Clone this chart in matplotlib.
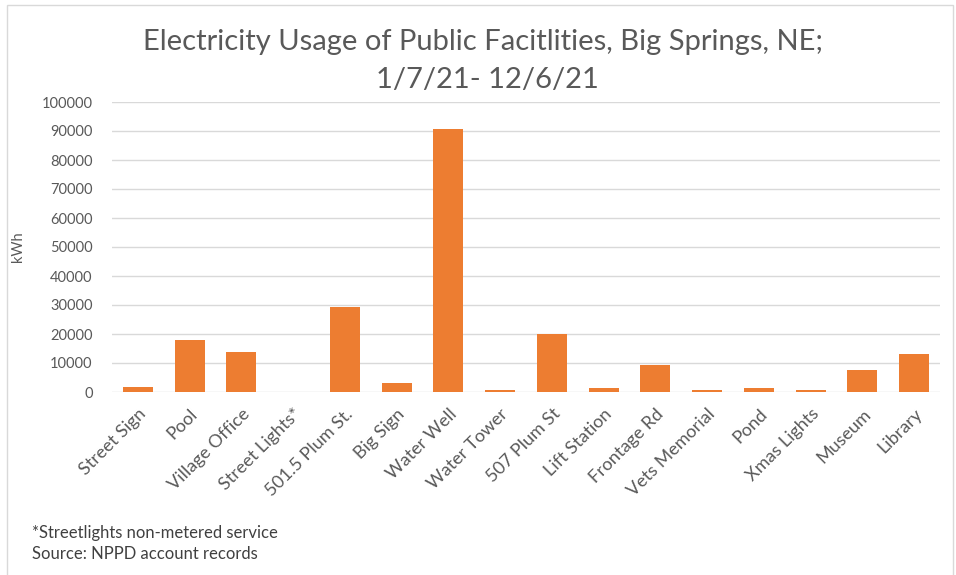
import numpy as np
import matplotlib
matplotlib.use("Agg")
import matplotlib.pyplot as plt
from matplotlib.patches import Rectangle

# Datos (kWh)
sites = ["Street Sign", "Pool", "Village Office", "Street Lights*", "501.5 Plum St.",
         "Big Sign", "Water Well", "Water Tower", "507 Plum St", "Lift Station",
         "Frontage Rd", "Vets Memorial", "Pond", "Xmas Lights", "Museum", "Library"]
kwh = [1800, 18000, 13700, 0, 29200, 3200, 90800, 700, 20000, 1300,
       9400, 700, 1300, 700, 7600, 13100]
yticks = list(range(0, 100001, 10000))

plt.rcParams['font.family'] = ['Lato', 'DejaVu Sans']
gray = '#595959'
orange = '#ED7D31'

fig = plt.figure(figsize=(9.56, 5.75), dpi=100)
ax = fig.add_axes([112/956, 1 - 392/575, (940-112)/956, (392-102)/575])

x = np.arange(len(sites))
ax.bar(x, kwh, width=0.58, color=orange, zorder=3)

ax.set_xlim(-0.5, len(sites) - 0.5)
ax.set_ylim(0, 100000)
ax.set_yticks(yticks)
ax.set_yticklabels([str(v) for v in yticks], fontsize=10.5, color=gray)
ax.set_xticks(x)
ax.set_xticklabels(sites, rotation=45, ha='right', rotation_mode='anchor',
                   fontsize=13, color=gray)
ax.tick_params(axis='y', length=0, pad=14)
ax.tick_params(axis='x', length=0, pad=10)
ax.grid(axis='y', color='#d9d9d9', lw=1, zorder=0)
for s in ax.spines.values():
    s.set_visible(False)

ax.set_ylabel('kWh', fontsize=10.5, color=gray, labelpad=12)

fig.text(0.505, 1 - 42/575, 'Electricity Usage of Public Facitlities, Big Springs, NE;',
         ha='center', va='center', fontsize=21, color=gray)
fig.text(0.51, 1 - 80/575, '1/7/21- 12/6/21', ha='center', va='center',
         fontsize=21, color=gray)

fig.text(32/956, 1 - 533/575, '*Streetlights non-metered service',
         ha='left', va='center', fontsize=12, color='#404040')
fig.text(32/956, 1 - 554/575, 'Source: NPPD account records',
         ha='left', va='center', fontsize=12, color='#404040')

# marco del gráfico
fig.patches.append(Rectangle((7/956, -0.01), 0.99, 1 - 5/575 + 0.01,
                             transform=fig.transFigure, fill=False,
                             edgecolor='#d9d9d9', lw=1))

fig.savefig('out.png', dpi=100)
